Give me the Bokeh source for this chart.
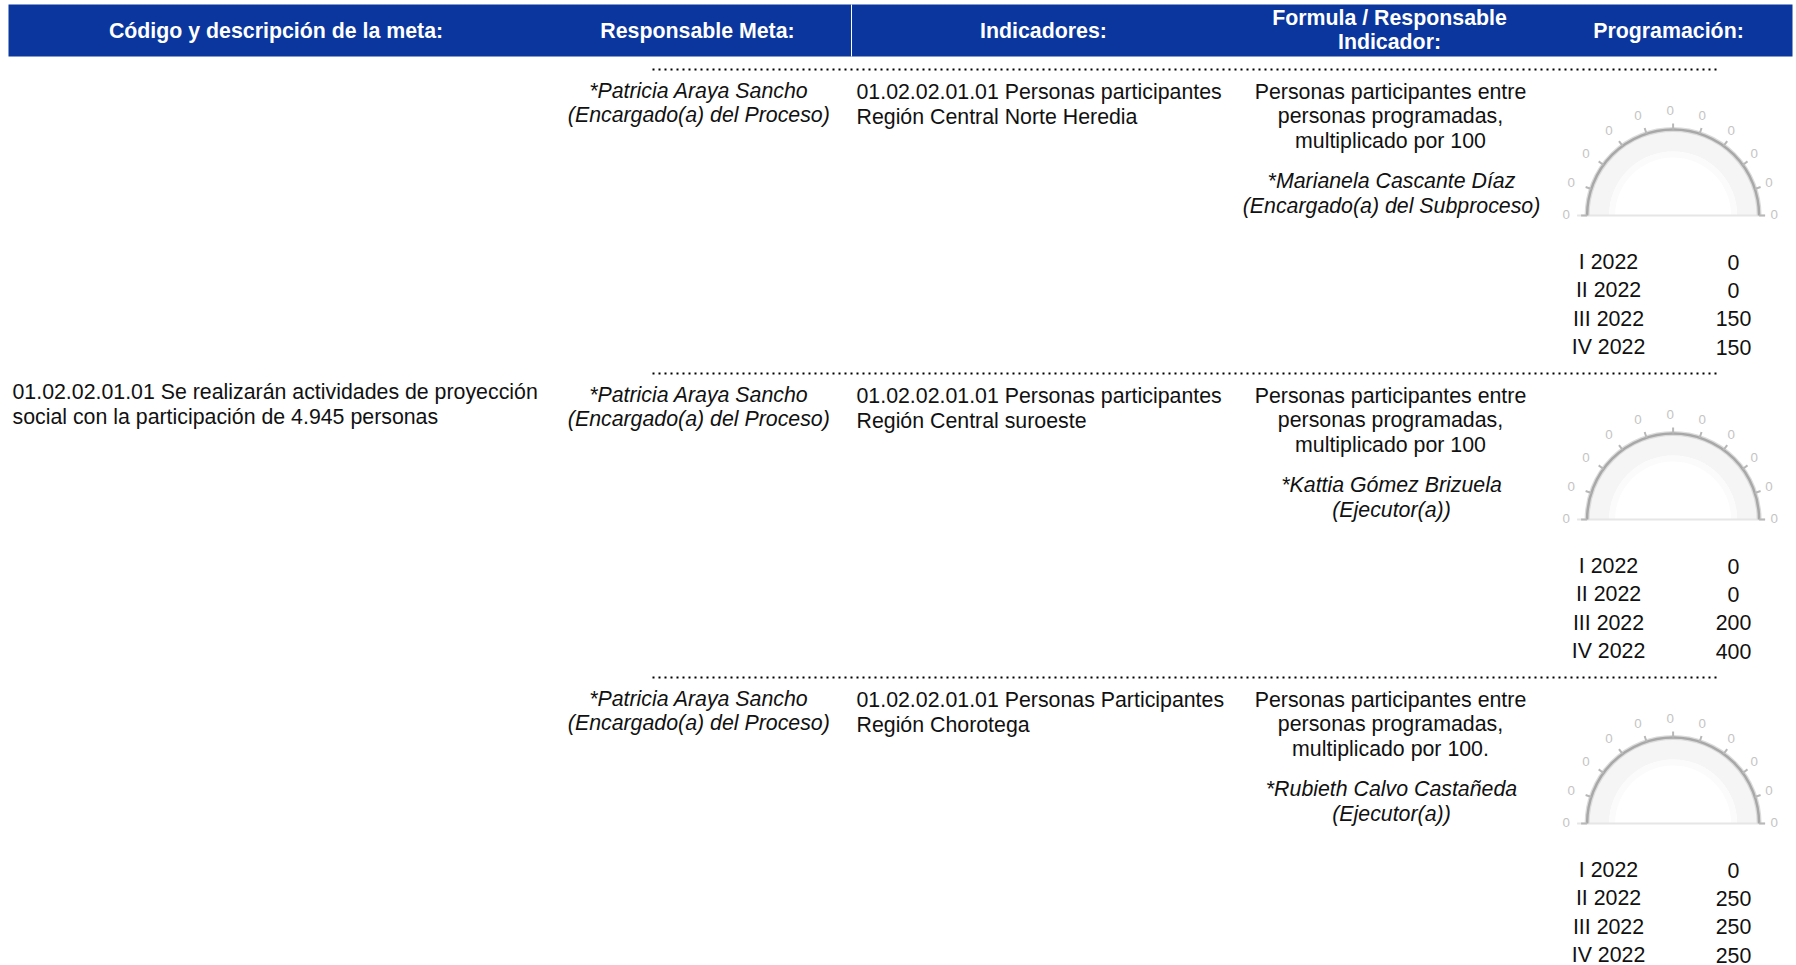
from bokeh.plotting import figure
from bokeh.models import Range1d
from bokeh.core.properties import value
from bokeh.embed import file_html
from bokeh.resources import INLINE
import math

W, H = 1796, 965
FONT = "Liberation Sans"

headers = ["Código y descripción de la meta:", "Responsable Meta:", "Indicadores:", "Formula / Responsable\nIndicador:", "Programación:"]
meta_lines = ["01.02.02.01.01 Se realizarán actividades de proyección", "social con la participación de 4.945 personas"]
resp_meta = ["*Patricia Araya Sancho", "(Encargado(a) del Proceso)"]
indicadores = [["01.02.02.01.01 Personas participantes", "Región Central Norte Heredia"],
               ["01.02.02.01.01 Personas participantes", "Región Central suroeste"],
               ["01.02.02.01.01 Personas Participantes", "Región Chorotega"]]
formulas = [["Personas participantes entre", "personas programadas,", "multiplicado por 100"],
            ["Personas participantes entre", "personas programadas,", "multiplicado por 100"],
            ["Personas participantes entre", "personas programadas,", "multiplicado por 100."]]
responsables = [["*Marianela Cascante Díaz", "(Encargado(a) del Subproceso)"],
                ["*Kattia Gómez Brizuela", "(Ejecutor(a))"],
                ["*Rubieth Calvo Castañeda", "(Ejecutor(a))"]]
periods = ["I 2022", "II 2022", "III 2022", "IV 2022"]
programacion = [[0, 0, 150, 150], [0, 0, 200, 400], [0, 250, 250, 250]]
gauge_ticks = ["0"] * 11

ROW0, PITCH = 69, 304
BODY = "16pt"

p = figure(width=W, height=H, x_range=Range1d(0, W), y_range=Range1d(H, 0),
           toolbar_location=None, output_backend="svg", min_border=0, outline_line_color=None)
p.axis.visible = False
p.grid.visible = False

def txt(x, y, s, align="left", size=BODY, style="normal", color="#111111"):
    p.text([x], [y], text=[s], text_align=align, text_baseline="middle", text_font=value(FONT),
           text_font_size=size, text_font_style=style, text_color=color)

# header
p.quad(left=[8], right=[1792], top=[4], bottom=[56], fill_color="#0a369d", line_color=None)
p.segment([851], [4], [851], [56], line_color="#ffffff", line_width=1)
hx = [275.5, 697, 1043, 1389, 1668]
for x, h in zip(hx, headers):
    ls = h.split("\n")
    y0 = 30 if len(ls) == 1 else 17
    for i, l in enumerate(ls):
        txt(x, y0 + 24 * i, l, "center", "16pt", "bold", "#ffffff")

for i, l in enumerate(meta_lines):
    txt(12, 391 + 25 * i, l)

for r in range(3):
    o = ROW0 + PITCH * r
    p.segment([652], [o], [1720], [o], line_color="#000000", line_width=2, line_dash="2 4")
    for i, l in enumerate(resp_meta):
        txt(698.3, o + 21 + 24.5 * i, l, "center", style="italic")
    for i, l in enumerate(indicadores[r]):
        txt(856, o + 22 + 25 * i, l)
    for i, l in enumerate(formulas[r]):
        txt(1390, o + 22 + 24.5 * i, l, "center")
    for i, l in enumerate(responsables[r]):
        txt(1391, o + 111.5 + 25 * i, l, "center", style="italic")
    # gauge: ring, rim, base line, ticks and their labels
    cx, cy = 1672.6, o + 146
    lx = cx - 3
    p.annular_wedge([cx], [cy], inner_radius=64, outer_radius=86, start_angle=0, end_angle=math.pi,
                    fill_color="#f5f5f5", line_color=None)
    p.annular_wedge([cx], [cy], inner_radius=58, outer_radius=64, start_angle=0, end_angle=math.pi,
                    fill_color="#fbfbfb", line_color=None)
    p.segment([cx - 96], [cy], [cx + 92], [cy], line_color="#e6e6e6", line_width=2)
    p.arc([cx], [cy], radius=86, start_angle=0, end_angle=math.pi, line_color="#dcdcdc", line_width=5)
    p.arc([cx], [cy], radius=86, start_angle=0, end_angle=math.pi, line_color="#a8a8a8", line_width=2.5)
    for k, t in enumerate(gauge_ticks):
        a = math.pi * k / (len(gauge_ticks) - 1)
        c, s = math.cos(a), math.sin(a)
        p.segment([cx + 86 * c], [cy - 86 * s], [cx + 92 * c], [cy - 92 * s], line_color="#b8b8b8", line_width=2)
        txt(lx + 104 * c, cy - 104 * s - 1, t, "center", "10pt", color="#c4c4c4")
    for i, (a, v) in enumerate(zip(periods, programacion[r])):
        y = o + 192.5 + 28.4 * i
        txt(1608, y, a, "center")
        txt(1733, y, str(v), "center")

open("out.html", "w").write(file_html(p, INLINE))
